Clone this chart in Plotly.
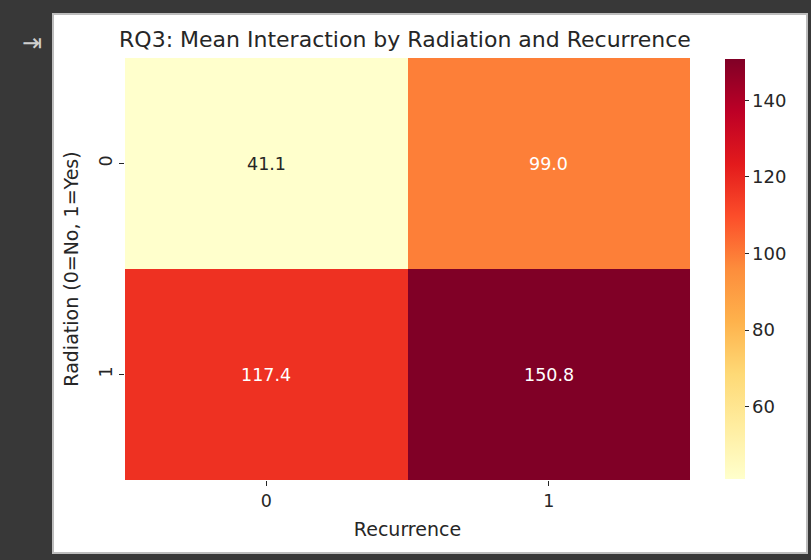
import plotly.graph_objects as go

recurrence = ["0", "1"]
radiation = ["0", "1"]
mean_interaction = [
    [41.1, 99.0],
    [117.4, 150.8],
]
cbar_ticks = [60, 80, 100, 120, 140]

ylorrd = [
    [0.0, "#ffffcc"], [0.125, "#ffeda0"], [0.25, "#fed976"], [0.375, "#feb24c"],
    [0.5, "#fd8d3c"], [0.625, "#fc4e2a"], [0.75, "#e31a1c"], [0.875, "#bd0026"],
    [1.0, "#800026"],
]

zmin = min(min(r) for r in mean_interaction)
zmax = max(max(r) for r in mean_interaction)

FONT = "DejaVu Sans"
TXT = "#262626"

fig = go.Figure()
fig.add_trace(go.Heatmap(
    z=mean_interaction, x=recurrence, y=radiation,
    colorscale=ylorrd, zmin=zmin, zmax=zmax,
    xgap=0, ygap=0,
    hoverinfo="z",
    colorbar=dict(
        x=(725 - 125) / 565, xanchor="left", xpad=0, ypad=0,
        y=0.5, yanchor="middle", len=0.995,
        thickness=20, outlinewidth=0,
        tickvals=cbar_ticks, ticks="outside", ticklen=4, tickcolor=TXT,
        tickfont=dict(family=FONT, size=18, color=TXT),
    ),
))

annotations = []
mid = (zmin + zmax) / 2
for i, rlab in enumerate(radiation):
    for j, clab in enumerate(recurrence):
        v = mean_interaction[i][j]
        annotations.append(dict(
            x=clab, y=rlab, xref="x", yref="y", text=f"{v:.1f}", showarrow=False,
            font=dict(family=FONT, size=17.5, color=TXT if v < mid * 0.9 else "white"),
        ))

# Colab-like icon
annotations.append(dict(
    xref="paper", yref="paper", x=(20 - 125) / 565, y=(480 - 27) / 422,
    text="⇥", showarrow=False, font=dict(family=FONT, size=24, color="#cfcfcf"),
))

fig.update_layout(
    width=811, height=560,
    margin=dict(l=125, r=121, t=58, b=80, autoexpand=False),
    paper_bgcolor="#383838",
    plot_bgcolor="white",
    title=dict(
        text="RQ3: Mean Interaction by Radiation and Recurrence",
        x=405 / 811, xanchor="center", y=1 - 39 / 560, yanchor="middle",
        font=dict(family=FONT, size=22, color=TXT),
    ),
    xaxis=dict(
        type="category", title=dict(text="Recurrence", font=dict(family=FONT, size=19, color=TXT), standoff=12),
        ticks="outside", ticklen=5, tickcolor=TXT, tickfont=dict(family=FONT, size=17.5, color=TXT),
        showgrid=False, zeroline=False, showline=False,
    ),
    yaxis=dict(
        type="category", autorange="reversed",
        title=dict(text="Radiation (0=No, 1=Yes)", font=dict(family=FONT, size=19, color=TXT), standoff=12),
        ticks="outside", ticklen=5, tickcolor=TXT, tickfont=dict(family=FONT, size=17.5, color=TXT),
        tickangle=-90, showgrid=False, zeroline=False, showline=False,
    ),
    annotations=annotations,
    shapes=[dict(
        type="rect", xref="paper", yref="paper", layer="below",
        x0=(53 - 125) / 565, x1=(807 - 125) / 565,
        y0=(480 - 553) / 422, y1=(480 - 14) / 422,
        fillcolor="white", line=dict(color="#bdbdbd", width=2),
    )],
)

fig.write_html("out.html")
